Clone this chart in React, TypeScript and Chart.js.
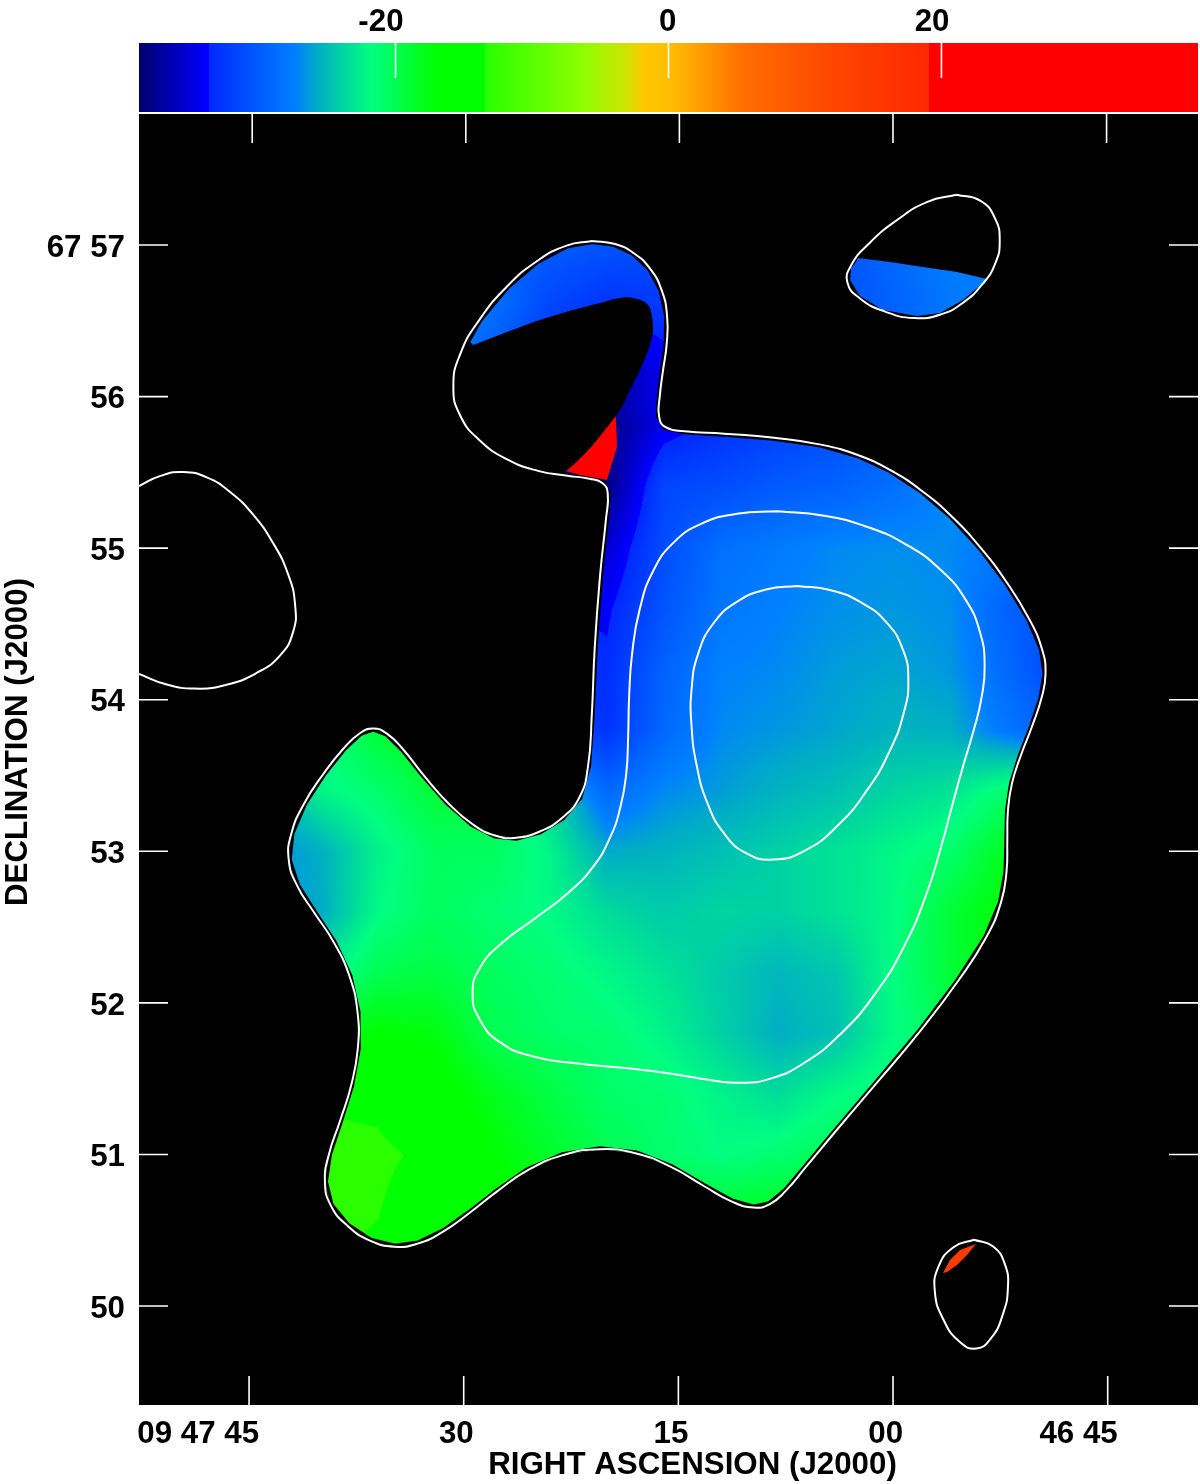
import React, { useEffect, useRef } from "react";
import { Chart, registerables } from "chart.js";

Chart.register(...registerables);

// Right ascension is held as seconds relative to 09 47 00, declination as arcminutes past 67 deg.
const raTicks = [45, 30, 15, 0, -15];
const raLabels = ["09 47 45", "30", "15", "00", "46 45"];
const decTicks = [50, 51, 52, 53, 54, 55, 56, 57];
const decLabels = ["50", "51", "52", "53", "54", "55", "56", "67 57"];
const wedgeTicks = [-20, 0, 20];
const wedgeLabels = ["-20", "0", "20"];
const xTitle = "RIGHT ASCENSION (J2000)";
const yTitle = "DECLINATION (J2000)";

const outerContour = [
  [20.96,57.02],[19.57,57.007],[18.17,56.947],[16.98,56.848],[16.14,56.703],[15.79,56.525],[15.79,56.353],[16.07,56.175],[16.35,55.997],[16.28,55.865],[15.79,55.799],[14.88,55.773],
  [11.88,55.76],[8.11,55.727],[4.89,55.68],[2.52,55.615],[0.21,55.516],[-2.1,55.37],[-3.98,55.219],[-6.08,55.008],[-7.97,54.77],[-9.57,54.526],[-10.41,54.328],[-10.62,54.176],[-10.41,54.018],
  [-9.71,53.82],[-8.87,53.622],[-8.32,53.451],[-7.97,53.272],[-7.97,53.074],[-7.97,52.857],[-7.48,52.659],[-6.57,52.434],[-4.68,52.171],[-1.89,51.801],[1.4,51.445],[3.91,51.174],[6.29,50.897],
  [7.41,50.765],[8.6,50.68],[9.78,50.647],[11.18,50.686],[13.28,50.785],[15.58,50.93],[17.89,51.009],[20.47,51.029],[23.06,51.003],[25.58,50.897],[27.67,50.752],[29.56,50.614],[31.45,50.488],
  [33.26,50.416],[34.66,50.389],[36.55,50.429],[38.15,50.534],[39.34,50.666],[39.69,50.831],[39.48,50.983],[38.64,51.227],[37.81,51.458],[37.39,51.689],[37.46,51.953],[37.94,52.171],[38.99,52.395],
  [40.53,52.613],[41.65,52.764],[42.28,52.942],[42.0,53.121],[41.23,53.305],[39.83,53.503],[38.29,53.688],[37.25,53.78],[36.34,53.8],[35.36,53.78],[34.24,53.681],[32.84,53.503],[31.17,53.319],
  [29.35,53.173],[27.67,53.107],[26.55,53.094],[24.67,53.127],[23.06,53.226],[21.87,53.371],[21.31,53.556],[21.03,53.866],[20.96,54.348],[20.47,54.856],[19.99,55.232],[19.99,55.337],[20.27,55.417],
  [21.17,55.469],[22.78,55.476],[24.67,55.502],[26.97,55.582],[28.86,55.713],[30.26,55.878],[30.75,56.063],[30.26,56.287],[28.86,56.505],[26.97,56.723],[24.88,56.901],[22.78,57.0],[20.96,57.02],
];
const middleContour = [
  [8.11,55.238],[4.89,55.219],[1.82,55.139],[-0.98,55.021],[-3.28,54.856],[-5.17,54.658],[-6.08,54.44],[-6.36,54.216],[-6.22,54.018],[-5.59,53.8],[-4.89,53.556],[-4.19,53.338],[-3.42,53.074],
  [-2.38,52.698],[-0.7,52.368],[1.12,52.085],[3.7,51.775],[6.29,51.603],[8.6,51.504],[10.69,51.471],[12.79,51.491],[15.37,51.537],[18.59,51.577],[22.36,51.603],[25.16,51.643],[27.46,51.735],
  [28.86,51.887],[29.35,52.065],[28.86,52.237],[27.46,52.395],[24.88,52.56],[22.57,52.731],[20.96,52.896],[19.78,53.094],[19.08,53.292],[18.59,53.516],[18.52,53.754],[18.45,54.018],[18.24,54.308],
  [17.68,54.592],[16.77,54.856],[15.37,55.034],[13.28,55.166],[10.9,55.225],[8.11,55.238],
];
const innerContour = [
  [6.71,54.744],[4.4,54.724],[2.31,54.645],[0.42,54.513],[-0.7,54.328],[-1.05,54.13],[-0.7,53.912],[0.21,53.668],[1.82,53.404],[3.91,53.16],[6.29,52.995],[8.39,52.949],[10.2,52.989],[11.88,53.121],
  [13.0,53.319],[13.7,53.582],[14.05,53.82],[14.05,54.064],[13.63,54.308],[12.58,54.506],[10.9,54.645],[8.8,54.73],[6.71,54.744],
];
const northEastContour = [
  [-4.47,57.336],[-6.08,57.297],[-7.13,57.178],[-7.48,57.02],[-7.06,56.868],[-6.29,56.749],[-4.89,56.624],[-3.28,56.538],[-1.68,56.518],[0.7,56.558],[2.31,56.65],[3.21,56.769],[3.0,56.848],[1.61,57.013],
  [-0.28,57.165],[-2.38,57.284],[-4.47,57.336],
];
const southEastContour = [
  [-5.73,50.449],[-6.99,50.402],[-7.83,50.257],[-8.04,50.125],[-7.69,49.954],[-6.78,49.776],[-5.87,49.716],[-4.68,49.762],[-3.49,49.908],[-2.87,50.105],[-3.14,50.257],[-4.19,50.383],[-5.73,50.449],
];
const westContour = [
  [52.69,55.41],[51.22,55.483],[49.61,55.502],[47.94,55.469],[46.33,55.37],[44.72,55.219],[43.33,55.034],[42.28,54.836],[41.79,54.612],[41.93,54.46],[42.84,54.282],[44.44,54.176],[46.82,54.097],
  [48.92,54.071],[50.73,54.097],[52.69,54.17],
];
const northEastBlue = [
  [2.45,56.914],[0.21,56.888],[-2.1,56.855],[-4.47,56.822],[-6.57,56.776],[-6.22,56.743],[-4.89,56.637],[-3.28,56.551],[-1.68,56.532],[0.7,56.571],[2.31,56.664],[3.0,56.769],[2.93,56.848],[2.59,56.888],
];
const blankedHole = [
  [29.35,56.34],[26.97,56.426],[24.67,56.505],[22.36,56.571],[20.47,56.617],[19.08,56.65],[18.17,56.65],[17.19,56.611],[16.84,56.525],[16.84,56.393],[17.47,56.221],[18.38,56.043],[19.36,55.872],
  [22.85,55.509],[24.67,55.463],[31.66,55.516],[31.66,56.241],[30.4,56.439],[29.35,56.34],
];
const redWedge = [[19.36,55.872],[19.29,55.667],[19.99,55.45],[21.87,55.483],[22.85,55.509],[19.36,55.872]];
const orangeSliver = [[-5.8,50.409],[-4.68,50.369],[-3.98,50.303],[-3.49,50.218],[-3.77,50.224],[-4.47,50.27],[-5.17,50.336],[-5.8,50.409]];

const fieldRA = [44, 40, 36, 32, 28, 24, 20, 16, 12, 8, 4, 0, -4, -8, -12];
const fieldDec = [57.4, 57.0, 56.6, 56.2, 55.8, 55.4, 55.0, 54.6, 54.2, 53.8, 53.4, 53.0, 52.6, 52.2, 51.8, 51.4, 51.0, 50.6, 50.2];
const row574 = [-29,-29,-29,-29,-29,-30,-30,-31,-31,-31,-30.5,-29,-27.5,-27.5,-27];
const row570 = [-28,-28,-28,-28,-29,-30,-30.5,-31,-31,-31,-30.5,-29,-27.5,-27.5,-27];
const row566 = [-27,-27,-27,-27,-28.5,-31.5,-33,-32.5,-32,-31.5,-31,-29.5,-28,-27.5,-27];
const row562 = [-27,-27,-27,-28,-30,-33,-36.5,-34.5,-33,-32,-31,-30,-29,-28,-28];
const row558 = [-28,-28,-28,-29,-31,-36,-38,-34.5,-33,-32,-31,-30,-29,-28,-28];
const row554 = [-28,-28,-28,-29,-31,-36,-38,-31.5,-31,-30,-29.5,-28.5,-27,-27,-27];
const row550 = [-28,-28,-28,-29,-31,-36,-35.5,-31,-28.5,-27.7,-27,-26.8,-27,-28,-29];
const row546 = [-28,-28,-28,-29,-31,-33.5,-34,-30.5,-28,-27.3,-26.8,-26.5,-26.8,-29.5,-31];
const row542 = [-28,-28,-28,-29,-31,-32.5,-33.3,-29.5,-27.3,-27,-26.3,-26,-26.5,-29,-32];
const row538 = [-27,-22,-19,-18,-20,-30,-33,-29,-27,-26.5,-26,-25.4,-25.6,-28,-30];
const row534 = [-27,-22.3,-21,-19,-19.5,-24,-29,-27,-26.3,-25.4,-24.8,-23.8,-23.2,-21,-20];
const row530 = [-27,-25.6,-22.5,-20.5,-20.5,-22.3,-25.8,-25.4,-24.8,-24,-23.2,-22.2,-21,-18,-17];
const row526 = [-27,-25.8,-22,-20.5,-21.2,-22,-23.5,-24.3,-23.8,-24,-23.2,-22,-19,-17,-16];
const row522 = [-25,-23,-20,-19.5,-20.5,-21.2,-22.2,-23.2,-24.3,-25.2,-24.5,-21.8,-19,-17,-16];
const row518 = [-20,-19,-17,-17.5,-20,-20.8,-21.2,-22.4,-24,-25.6,-24.8,-22,-20,-18,-17];
const row514 = [-15,-13.6,-14,-16,-18,-19.5,-20.8,-21.2,-22.4,-23.5,-22,-21,-20,-19,-18];
const row510 = [-13,-13,-13,-14,-17,-18.5,-20,-21,-21.8,-21.2,-20,-19,-19,-18,-18];
const row506 = [-13,-13,-13.4,-15,-16,-17,-18,-18,-18.5,-18,-18,-18,-18,-18,-18];
const row502 = [-13,-13,-14,-15,-16,-17,-18,-18,-18.5,-18,-18,-18,-18,-18,-18];
const fieldRows = [row574,row570,row566,row562,row558,row554,row550,row546,row542,row538,row534,row530,row526,row522,row518,row514,row510,row506,row502];

// Colour table: [velocity, r, g, b]; repeated velocities are the table's hard steps.
const colourStops = [
  [-38.8,0,0,110],[-33.9,0,0,255],[-33.67,0,0,255],[-33.67,0,40,255],[-27.33,0,128,255],[-25.83,0,170,200],[-23.27,0,225,150],[-21.8,0,255,128],
  [-16.97,0,255,0],[-13.45,0,255,0],[-13.45,40,255,0],[-6.34,140,255,0],[-3.34,200,230,0],[-1.8,255,200,0],[0,255,190,0],[1.9,255,165,0],[5.45,255,110,0],
  [12.04,255,70,0],[19.07,255,40,0],[19.07,255,0,0],[38.8,255,0,0],
];

const FONT = { family: "'Liberation Sans', Arial, sans-serif", weight: "bold" as const, size: 31.3 };

// Takes the reading jitter out of a traced contour without shrinking it (a Taubin pass).
function denoise(pts: number[][], closed: boolean) {
  const step = (src: number[][], k: number) => {
    const n = closed ? src.length - 1 : src.length;
    const out = src.map((p) => p.slice());
    for (let i = 0; i < n; i++) {
      if (!closed && (i === 0 || i === n - 1)) continue;
      const a = src[(i - 1 + n) % n], b = src[(i + 1) % n];
      for (let c = 0; c < 2; c++) out[i][c] = src[i][c] + k * ((a[c] + b[c]) / 2 - src[i][c]);
    }
    if (closed) out[n] = out[0].slice();
    return out;
  };
  let res = pts;
  for (let it = 0; it < 2; it++) res = step(step(res, 0.6), -0.62);
  return res;
}
const outerSmooth = denoise(outerContour, true);

function colourAt(v: number): [number, number, number] {
  const s = colourStops;
  if (v <= s[0][0]) return [s[0][1], s[0][2], s[0][3]];
  for (let i = 1; i < s.length; i++) {
    if (v < s[i][0]) {
      const a = s[i - 1], b = s[i];
      const f = (v - a[0]) / (b[0] - a[0] || 1);
      return [a[1] + (b[1] - a[1]) * f, a[2] + (b[2] - a[2]) * f, a[3] + (b[3] - a[3]) * f];
    }
  }
  const l = s[s.length - 1];
  return [l[1], l[2], l[3]];
}

function fieldAt(ra: number, dec: number) {
  const fx = Math.max(0, Math.min(fieldRA.length - 1.001, (fieldRA[0] - ra) / 4));
  const fy = Math.max(0, Math.min(fieldDec.length - 1.001, (fieldDec[0] - dec) / 0.4));
  const i = Math.floor(fx), j = Math.floor(fy), u = fx - i, w = fy - j;
  const a = fieldRows[j], b = fieldRows[j + 1];
  return (a[i] * (1 - u) + a[i + 1] * u) * (1 - w) + (b[i] * (1 - u) + b[i + 1] * u) * w;
}

const tracePath = (ctx: CanvasRenderingContext2D, chart: any, pts: number[][]) => {
  pts.forEach((p, i) => {
    const px = chart.scales.x.getPixelForValue(p[0]);
    const py = chart.scales.y.getPixelForValue(p[1]);
    if (i === 0) ctx.moveTo(px, py);
    else ctx.lineTo(px, py);
  });
  ctx.closePath();
};

const fieldPlugin = {
  id: "velocityField",
  beforeDraw(chart: any) {
    const { ctx, chartArea: a } = chart;
    ctx.save();
    ctx.fillStyle = "#000";
    ctx.fillRect(a.left, a.top, a.right - a.left, a.bottom - a.top);
    ctx.restore();
  },
  beforeDatasetsDraw(chart: any) {
    const { ctx, scales } = chart;
    const x0 = Math.floor(scales.x.getPixelForValue(fieldRA[0]));
    const x1 = Math.ceil(scales.x.getPixelForValue(fieldRA[fieldRA.length - 1]));
    const y0 = Math.floor(scales.y.getPixelForValue(fieldDec[0]));
    const y1 = Math.ceil(scales.y.getPixelForValue(fieldDec[fieldDec.length - 1]));
    const w = x1 - x0, h = y1 - y0;
    const off = document.createElement("canvas");
    off.width = w;
    off.height = h;
    const octx = off.getContext("2d")!;
    const img = octx.createImageData(w, h);
    for (let py = 0; py < h; py++) {
      const dec = scales.y.getValueForPixel(y0 + py + 0.5);
      for (let px = 0; px < w; px++) {
        const ra = scales.x.getValueForPixel(x0 + px + 0.5);
        const c = colourAt(fieldAt(ra, dec));
        const k = (py * w + px) * 4;
        img.data[k] = c[0];
        img.data[k + 1] = c[1];
        img.data[k + 2] = c[2];
        img.data[k + 3] = 255;
      }
    }
    octx.putImageData(img, 0, 0);
    ctx.save();
    ctx.beginPath();
    tracePath(ctx, chart, outerSmooth);
    tracePath(ctx, chart, northEastBlue);
    ctx.clip();
    ctx.drawImage(off, x0, y0);
    ctx.beginPath();
    tracePath(ctx, chart, outerSmooth);
    ctx.strokeStyle = "#000";
    ctx.lineWidth = 6;
    ctx.stroke();
    ctx.restore();
  },
};

const frameTicksPlugin = {
  id: "frameTicks",
  afterDatasetsDraw(chart: any) {
    const { ctx, chartArea: a, scales } = chart;
    ctx.save();
    ctx.strokeStyle = "#fff";
    ctx.lineWidth = 1.6;
    ctx.beginPath();
    scales.x.ticks.forEach((t: any) => {
      const p = scales.x.getPixelForValue(t.value);
      ctx.moveTo(p, a.bottom);
      ctx.lineTo(p, a.bottom - 29);
    });
    scales.xTop.ticks.forEach((t: any) => {
      const p = scales.xTop.getPixelForValue(t.value);
      ctx.moveTo(p, a.top);
      ctx.lineTo(p, a.top + 30);
    });
    scales.y.ticks.forEach((t: any) => {
      const p = scales.y.getPixelForValue(t.value);
      ctx.moveTo(a.left, p);
      ctx.lineTo(a.left + 29, p);
      ctx.moveTo(a.right, p);
      ctx.lineTo(a.right - 29, p);
    });
    ctx.stroke();
    ctx.restore();
  },
  afterDraw(chart: any) {
    const { ctx, chartArea: a } = chart;
    ctx.save();
    ctx.fillStyle = "#000";
    ctx.font = `bold ${FONT.size}px ${FONT.family}`;
    ctx.textAlign = "center";
    ctx.textBaseline = "middle";
    ctx.fillText(xTitle, a.left + 553.5, a.bottom + 60);
    ctx.translate(18, a.top + 629);
    ctx.rotate(-Math.PI / 2);
    ctx.fillText(yTitle, 0, 0);
    ctx.restore();
  },
};

const wedgeTicksPlugin = {
  id: "wedgeTicks",
  afterDatasetsDraw(chart: any) {
    const { ctx, chartArea: a, scales } = chart;
    ctx.save();
    ctx.strokeStyle = "#fff";
    ctx.lineWidth = 1.6;
    ctx.beginPath();
    scales.x.ticks.forEach((t: any) => {
      const p = scales.x.getPixelForValue(t.value);
      ctx.moveTo(p, a.top);
      ctx.lineTo(p, a.top + 35);
    });
    ctx.stroke();
    ctx.restore();
  },
};

const xy = (pts: number[][]) => pts.map((p) => ({ x: p[0], y: p[1] }));
const contourSet = (label: string, pts: number[][], closed = true) => ({
  label,
  data: xy(denoise(pts, closed)),
  showLine: true,
  borderColor: "#fff",
  borderWidth: 2,
  pointRadius: 0,
  tension: 0.5,
  fill: false,
  order: 0,
  xAxisID: "x",
  yAxisID: "y",
});
const patchSet = (label: string, pts: number[][], colour: string, tension = 0) => ({
  label,
  data: xy(pts),
  showLine: true,
  borderColor: colour,
  borderWidth: 0,
  backgroundColor: colour,
  pointRadius: 0,
  tension,
  fill: "shape",
  order: 1,
  xAxisID: "x",
  yAxisID: "y",
});

export default function App() {
  const mapRef = useRef<HTMLCanvasElement>(null);
  const wedgeRef = useRef<HTMLCanvasElement>(null);

  useEffect(() => {
    const setTicks = (values: number[]) => (axis: any) => {
      axis.ticks = values.map((value) => ({ value }));
    };
    const map = new Chart(mapRef.current!, {
      type: "scatter",
      data: {
        datasets: [
          contourSet("outer", outerContour),
          contourSet("middle", middleContour),
          contourSet("inner", innerContour),
          contourSet("north-east", northEastContour),
          contourSet("south-east", southEastContour),
          contourSet("west", westContour, false),
          patchSet("blanked", blankedHole, "#000", 0.4),
          patchSet("red wedge", redWedge, "#ff0000"),
          patchSet("orange sliver", orangeSliver, "#ff3c00"),
        ] as any,
      },
      options: {
        animation: false,
        responsive: false,
        devicePixelRatio: 1,
        events: [],
        layout: { padding: { top: 113, right: 2, left: 0, bottom: 0 } },
        plugins: { legend: { display: false }, tooltip: { enabled: false } },
        scales: {
          x: {
            type: "linear",
            position: "bottom",
            reverse: true,
            min: -21.31,
            max: 52.69,
            afterBuildTicks: setTicks(raTicks),
            afterFit: (s: any) => { s.height = 79; },
            grid: { display: false, drawTicks: false },
            border: { display: false },
            ticks: {
              autoSkip: false,
              maxRotation: 0,
              minRotation: 0,
              align: "end",
              labelOffset: 10,
              padding: 11,
              color: "#000",
              font: FONT,
              callback: (_v: any, i: number) => raLabels[i],
            },
          },
          xTop: {
            type: "linear",
            position: "top",
            reverse: true,
            min: -21.42,
            max: 52.95,
            afterBuildTicks: setTicks(raTicks),
            afterFit: (s: any) => { s.height = 0; },
            grid: { display: false, drawTicks: false },
            border: { display: true, color: "#fff", width: 2 },
            ticks: { display: false },
          },
          y: {
            type: "linear",
            position: "left",
            min: 49.347,
            max: 57.871,
            afterBuildTicks: setTicks(decTicks),
            afterFit: (s: any) => { s.width = 139; },
            grid: { display: false, drawTicks: false },
            border: { display: false },
            ticks: {
              autoSkip: false,
              padding: 14,
              labelOffset: 3,
              color: "#000",
              font: FONT,
              callback: (_v: any, i: number) => decLabels[i],
            },
          },
        },
      } as any,
      plugins: [fieldPlugin, frameTicksPlugin],
    });

    const wedge = new Chart(wedgeRef.current!, {
      type: "bar",
      data: {
        labels: ["velocity"],
        datasets: [
          {
            label: "velocity wedge",
            data: [[colourStops[0][0], colourStops[colourStops.length - 1][0]]],
            barPercentage: 1,
            categoryPercentage: 1,
            borderWidth: 0,
            backgroundColor: (c: any) => {
              const { chart } = c;
              if (!chart.chartArea) return "#000";
              const s = chart.scales.x;
              const g = chart.ctx.createLinearGradient(s.left, 0, s.right, 0);
              colourStops.forEach((st) => {
                g.addColorStop((st[0] - s.min) / (s.max - s.min), `rgb(${st[1]},${st[2]},${st[3]})`);
              });
              return g;
            },
          },
        ] as any,
      },
      options: {
        indexAxis: "y",
        animation: false,
        responsive: false,
        devicePixelRatio: 1,
        events: [],
        layout: { padding: { left: 139, right: 2, top: 0, bottom: 1 } },
        plugins: { legend: { display: false }, tooltip: { enabled: false } },
        scales: {
          x: {
            type: "linear",
            position: "top",
            min: colourStops[0][0],
            max: colourStops[colourStops.length - 1][0],
            afterBuildTicks: setTicks(wedgeTicks),
            afterFit: (s: any) => { s.height = 43; },
            grid: { display: false, drawTicks: false },
            border: { display: false },
            ticks: {
              autoSkip: false,
              maxRotation: 0,
              minRotation: 0,
              align: "end",
              labelOffset: 8,
              padding: 2,
              color: "#000",
              font: FONT,
              callback: (_v: any, i: number) => wedgeLabels[i],
            },
          },
          y: { display: false, grid: { display: false } },
        },
      } as any,
      plugins: [wedgeTicksPlugin],
    });

    return () => {
      map.destroy();
      wedge.destroy();
    };
  }, []);

  return (
    <div style={{ position: "absolute", left: 0, top: 0, width: 1200, height: 1484, background: "#fff" }}>
      <canvas ref={mapRef} width={1200} height={1484} style={{ position: "absolute", left: 0, top: 0, display: "block" }} />
      <canvas ref={wedgeRef} width={1200} height={113} style={{ position: "absolute", left: 0, top: 0, display: "block" }} />
    </div>
  );
}
